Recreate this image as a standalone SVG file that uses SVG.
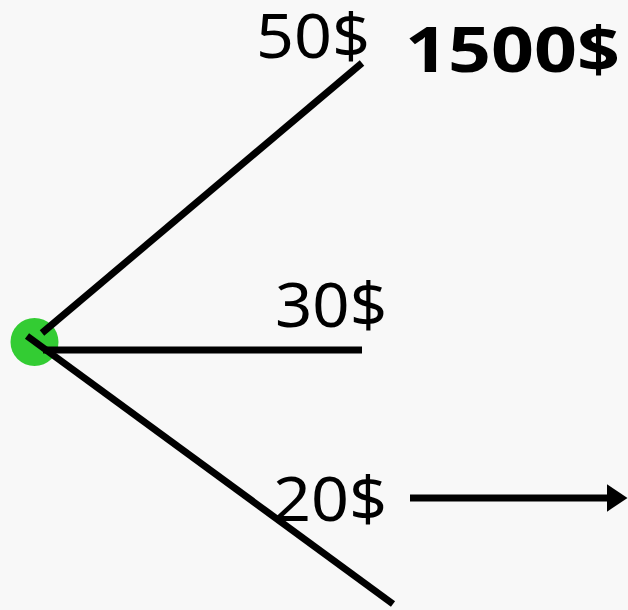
<svg xmlns="http://www.w3.org/2000/svg" width="628" height="610" viewBox="0 0 628 610">
<style>
.l{stroke:#000;stroke-width:7;fill:none}
.t{font-family:"Noto Sans","DejaVu Sans",sans-serif;font-size:62px;fill:#000}
.b{font-weight:bold}
</style>
<defs>
<marker id="ah" markerWidth="4" markerHeight="4" refX="0.5" refY="2" orient="auto" markerUnits="strokeWidth"><path d="M0,0 L3,2 L0,4 Z" fill="#000"/></marker>
</defs>
<rect width="628" height="610" fill="#f8f8f8"/>
<g id="root"><circle cx="34.5" cy="342" r="24" fill="#33cc33"/></g>
<g id="connectors">
<line class="l" x1="42" y1="333" x2="362" y2="63"/>
<line class="l" x1="43" y1="350" x2="362" y2="350"/>
<line class="l" x1="27" y1="336" x2="393" y2="604"/>
<line class="l" x1="410" y1="498" x2="610" y2="498" marker-end="url(#ah)"/>
</g>
<g id="n50"><text class="t" x="256" y="58" textLength="114" lengthAdjust="spacingAndGlyphs">50$</text></g>
<g id="n1500"><text class="t b" x="405" y="72" textLength="215" lengthAdjust="spacingAndGlyphs">1500$</text></g>
<g id="n30"><text class="t" x="275" y="327" textLength="112" lengthAdjust="spacingAndGlyphs">30$</text></g>
<g id="n20"><text class="t" x="273" y="521" textLength="114" lengthAdjust="spacingAndGlyphs">20$</text></g>
</svg>
